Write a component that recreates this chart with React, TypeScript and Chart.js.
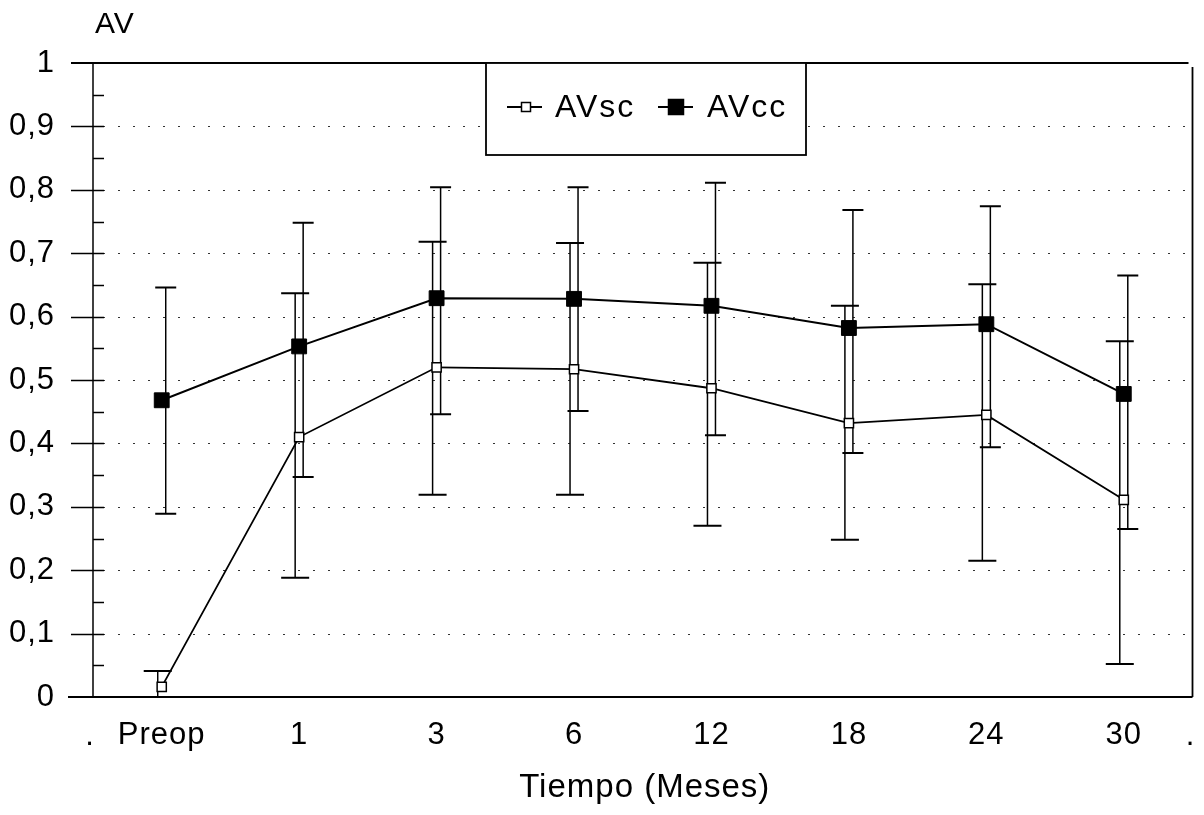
import React, { useEffect, useRef } from 'react';
import { Chart, registerables } from 'chart.js';

Chart.register(...registerables);

const CATEGORIES = ['Preop', '1', '3', '6', '12', '18', '24', '30'];
const AVSC = [0.016, 0.41, 0.52, 0.517, 0.487, 0.432, 0.445, 0.311];
const AVSC_LOW = [0.0, 0.188, 0.319, 0.319, 0.27, 0.248, 0.215, 0.052];
const AVSC_HIGH = [0.041, 0.637, 0.718, 0.716, 0.685, 0.617, 0.651, 0.561];
const AVCC = [0.468, 0.553, 0.629, 0.628, 0.617, 0.582, 0.588, 0.478];
const AVCC_LOW = [0.289, 0.347, 0.446, 0.451, 0.413, 0.385, 0.394, 0.265];
const AVCC_HIGH = [0.646, 0.748, 0.804, 0.804, 0.811, 0.768, 0.774, 0.665];
const Y_MIN = 0;
const Y_MAX = 1;
const Y_STEP = 0.1;
const LEGEND_LABELS = ['AVsc', 'AVcc'];
const Y_TITLE = 'AV';
const X_TITLE = 'Tiempo (Meses)';

const FONT = '"Liberation Sans", Arial, Helvetica, sans-serif';

const fmt = (v: number) => {
  const r = Math.round(v * 10) / 10;
  if (r === 0) return '0';
  if (r === 1) return '1';
  return r.toFixed(1).replace('.', ',');
};

const decorPlugin = {
  id: 'decor',
  beforeDraw(chart: any) {
    (chart.ctx as any).letterSpacing = '1px';
  },
  beforeDatasetsDraw(chart: any) {
    const { ctx, chartArea: a, scales } = chart;
    const y = scales.y;
    ctx.save();
    // dotted horizontal grid
    ctx.strokeStyle = '#333';
    ctx.lineWidth = 1.2;
    ctx.setLineDash([2, 13]);
    for (let v = Y_MIN + Y_STEP; v < Y_MAX - 1e-6; v += Y_STEP) {
      const py = Math.round(y.getPixelForValue(v)) + 0.5;
      ctx.beginPath();
      ctx.moveTo(a.left + 10, py);
      ctx.lineTo(a.right, py);
      ctx.stroke();
    }
    ctx.setLineDash([]);
    // frame
    ctx.strokeStyle = '#000';
    ctx.lineWidth = 2;
    const top = y.getPixelForValue(Y_MAX);
    const bot = y.getPixelForValue(Y_MIN);
    ctx.beginPath();
    ctx.moveTo(a.left - 22, top);
    ctx.lineTo(a.right - 4, top);
    ctx.stroke();
    ctx.beginPath();
    ctx.moveTo(a.left - 25, bot);
    ctx.lineTo(a.right, bot);
    ctx.stroke();
    ctx.lineWidth = 1.8;
    ctx.beginPath();
    ctx.moveTo(a.right, top + 4);
    ctx.lineTo(a.right, bot);
    ctx.stroke();
    ctx.lineWidth = 1.5;
    ctx.beginPath();
    ctx.moveTo(a.left, top);
    ctx.lineTo(a.left, bot);
    ctx.stroke();
    // major ticks
    ctx.lineWidth = 1.5;
    for (let v = Y_MIN + Y_STEP; v < Y_MAX - 1e-6; v += Y_STEP) {
      const py = Math.round(y.getPixelForValue(v)) + 0.5;
      ctx.beginPath();
      ctx.moveTo(a.left - 22, py);
      ctx.lineTo(a.left + 11, py);
      ctx.stroke();
    }
    // minor ticks
    for (let v = Y_MIN + Y_STEP / 2; v < Y_MAX; v += Y_STEP) {
      const py = Math.round(y.getPixelForValue(v)) + 0.5;
      ctx.beginPath();
      ctx.moveTo(a.left, py);
      ctx.lineTo(a.left + 11, py);
      ctx.stroke();
    }
    // error bars
    chart.data.datasets.forEach((ds: any, di: number) => {
      const meta = chart.getDatasetMeta(di);
      ctx.strokeStyle = '#000';
      ctx.lineWidth = 1.5;
      meta.data.forEach((pt: any, i: number) => {
        const px = pt.x + ds.errOffset;
        const pl = y.getPixelForValue(ds.errLow[i]);
        const ph = y.getPixelForValue(ds.errHigh[i]);
        const hw = ds.capWidth / 2;
        ctx.beginPath();
        ctx.moveTo(px, pl);
        ctx.lineTo(px, ph);
        ctx.stroke();
        ctx.lineWidth = 2;
        ctx.beginPath();
        ctx.moveTo(px - hw, ph);
        ctx.lineTo(px + hw, ph);
        if (ds.errLow[i] > Y_MIN) {
          ctx.moveTo(px - hw, pl);
          ctx.lineTo(px + hw, pl);
        }
        ctx.stroke();
        ctx.lineWidth = 1.5;
      });
    });
    ctx.restore();
  },
  afterDraw(chart: any) {
    const { ctx, chartArea: a, scales } = chart;
    ctx.save();
    ctx.fillStyle = '#000';
    ctx.textBaseline = 'alphabetic';
    ctx.letterSpacing = '1px';
    // y title
    ctx.font = `30px ${FONT}`;
    ctx.textAlign = 'left';
    ctx.fillText(Y_TITLE, 95, 33);
    // x title
    ctx.font = `33px ${FONT}`;
    ctx.textAlign = 'center';
    ctx.fillText(X_TITLE, (scales.x.left + scales.x.right) / 2 + 2, 797);
    // end dots
    ctx.font = `31px ${FONT}`;
    ctx.fillText('.', a.left - 3, 745);
    ctx.fillText('.', a.right - 2, 745);
    // legend box
    const bx = 486, by = a.top, bw = 320, bh = 92;
    ctx.fillStyle = '#fff';
    ctx.fillRect(bx, by, bw, bh);
    ctx.strokeStyle = '#000';
    ctx.lineWidth = 1.8;
    ctx.strokeRect(bx, by, bw, bh);
    const ly = by + 44;
    const items = [
      { x0: 507, x1: 542, mx: 526, size: 9, fill: '#fff', tx: 555 },
      { x0: 658, x1: 693, mx: 676, size: 15, fill: '#000', tx: 707 },
    ];
    items.forEach((it, i) => {
      ctx.lineWidth = 2;
      ctx.beginPath();
      ctx.moveTo(it.x0, ly);
      ctx.lineTo(it.x1, ly);
      ctx.stroke();
      ctx.fillStyle = it.fill;
      ctx.fillRect(it.mx - it.size / 2, ly - it.size / 2, it.size, it.size);
      ctx.lineWidth = 1.5;
      ctx.strokeRect(it.mx - it.size / 2, ly - it.size / 2, it.size, it.size);
      ctx.fillStyle = '#000';
      ctx.font = `32px ${FONT}`;
      ctx.letterSpacing = '2px';
      ctx.textAlign = 'left';
      ctx.textBaseline = 'middle';
      ctx.fillText(LEGEND_LABELS[i], it.tx, ly + 1);
    });
    ctx.restore();
  },
};

export default function App() {
  const ref = useRef<HTMLCanvasElement | null>(null);
  useEffect(() => {
    if (!ref.current) return;
    const chart = new Chart(ref.current, {
      type: 'line',
      data: {
        labels: CATEGORIES,
        datasets: [
          {
            label: LEGEND_LABELS[0],
            data: AVSC,
            borderColor: '#000',
            borderWidth: 1.8,
            pointStyle: 'rect',
            pointRadius: 6.5,
            pointBackgroundColor: '#fff',
            pointBorderColor: '#000',
            pointBorderWidth: 1.5,
            tension: 0,
            errLow: AVSC_LOW,
            errHigh: AVSC_HIGH,
            errOffset: -4,
            capWidth: 28,
          } as any,
          {
            label: LEGEND_LABELS[1],
            data: AVCC,
            borderColor: '#000',
            borderWidth: 2,
            pointStyle: 'rect',
            pointRadius: 10.5,
            pointBackgroundColor: '#000',
            pointBorderColor: '#000',
            pointBorderWidth: 1,
            tension: 0,
            errLow: AVCC_LOW,
            errHigh: AVCC_HIGH,
            errOffset: 4,
            capWidth: 21,
          } as any,
        ],
      },
      options: {
        responsive: false,
        animation: false,
        devicePixelRatio: 1,
        layout: { padding: { top: 63, right: 5, left: 0, bottom: 0 } },
        plugins: {
          legend: { display: false },
          tooltip: { enabled: false },
        },
        scales: {
          x: {
            type: 'category',
            offset: true,
            grid: { display: false },
            border: { display: false },
            ticks: {
              color: '#000',
              font: { family: FONT, size: 31 },
              padding: 12,
              maxRotation: 0,
              autoSkip: false,
            },
            afterFit: (s: any) => {
              s.height = 118;
              s.paddingLeft = 0;
              s.paddingRight = 0;
            },
          },
          y: {
            min: Y_MIN,
            max: Y_MAX,
            grid: { display: false },
            border: { display: false },
            ticks: {
              stepSize: Y_STEP,
              color: '#000',
              font: { family: FONT, size: 31 },
              padding: 30,
              callback: (v: any) => fmt(Number(v)),
            },
            afterFit: (s: any) => {
              s.width = 93;
              s.paddingTop = 0;
              s.paddingBottom = 0;
            },
          },
        },
      } as any,
      plugins: [decorPlugin],
    });
    return () => chart.destroy();
  }, []);
  return (
    <div style={{ position: 'fixed', left: 0, top: 0, width: 1204, height: 815, background: '#fff' }}>
      <canvas ref={ref} width={1204} height={815} style={{ display: 'block' }} />
    </div>
  );
}
